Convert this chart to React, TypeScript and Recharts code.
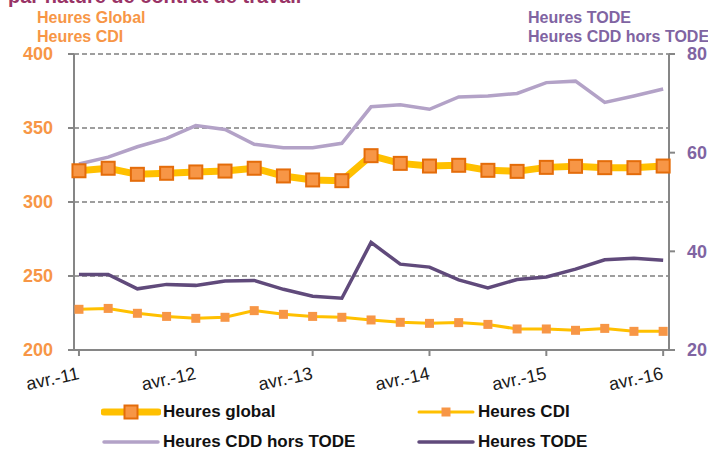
import { LineChart, Line, XAxis, YAxis, CartesianGrid } from "recharts";

// quarterly points, avr.-11 .. avr.-16
const quarters = [
  "avr.-11", "juil.-11", "oct.-11", "janv.-12",
  "avr.-12", "juil.-12", "oct.-12", "janv.-13",
  "avr.-13", "juil.-13", "oct.-13", "janv.-14",
  "avr.-14", "juil.-14", "oct.-14", "janv.-15",
  "avr.-15", "juil.-15", "oct.-15", "janv.-16",
  "avr.-16",
];
const xTicks = [0, 4, 8, 12, 16, 20];

const heuresGlobal = [
  321.1, 322.8, 318.7, 319.4, 320.3, 320.9, 322.8, 317.6, 314.9, 314.4,
  331.3, 326.1, 324.3, 324.8, 321.4, 320.7, 323.4, 324.1, 323.2, 323.2, 324.3,
];
const heuresCDI = [
  227.5, 228.1, 224.8, 222.7, 221.4, 222.1, 226.6, 224.1, 222.7, 222.1,
  220.3, 218.7, 218.0, 218.5, 217.3, 214.2, 214.2, 213.3, 214.6, 212.6, 212.6,
];
const heuresCDDHorsTode = [
  57.7, 59.1, 61.2, 62.9, 65.5, 64.7, 61.7, 61.0, 61.0, 61.9,
  69.3, 69.7, 68.8, 71.3, 71.5, 72.0, 74.2, 74.5, 70.2, 71.5, 72.9,
];
const heuresTode = [
  35.3, 35.3, 32.4, 33.3, 33.1, 34.0, 34.1, 32.3, 30.9, 30.5,
  41.8, 37.4, 36.8, 34.2, 32.6, 34.3, 34.8, 36.4, 38.3, 38.6, 38.2,
];

const leftTicks = [200, 250, 300, 350, 400];
const rightTicks = [20, 40, 60, 80];

const data = quarters.map((q, i) => ({
  i,
  q,
  global: heuresGlobal[i],
  cdi: heuresCDI[i],
  cdd: heuresCDDHorsTode[i],
  tode: heuresTode[i],
}));

const ORANGE = "#F79646";
const DARK_ORANGE = "#E46C0A";
const GOLD = "#FFC000";
const LIGHT_PURPLE = "#B3A2C7";
const DARK_PURPLE = "#604A7B";
const PURPLE_TXT = "#8064A2";
const AXIS = "#868686";
const FONT = "'Liberation Sans', Arial, sans-serif";

function BigSquare(props: any) {
  const { cx, cy } = props;
  if (cx == null || cy == null) return null;
  return (
    <rect x={cx - 6.5} y={cy - 6.5} width={13} height={13} fill={ORANGE} stroke={DARK_ORANGE} strokeWidth={2} />
  );
}

function SmallSquare(props: any) {
  const { cx, cy } = props;
  if (cx == null || cy == null) return null;
  return <rect x={cx - 4.5} y={cy - 4.5} width={9} height={9} fill={ORANGE} />;
}

function XTick(props: any) {
  const { x, y, payload } = props;
  return (
    <g transform={`translate(${x},${y})`}>
      <text
        x={0}
        y={0}
        textAnchor="end"
        transform="translate(1,21) rotate(-12)"
        fontSize={18}
        fontFamily={FONT}
        fill="#1a1a1a"
      >
        {quarters[payload.value]}
      </text>
    </g>
  );
}

function LegendRow({ x, y, label, kind }: { x: number; y: number; label: string; kind: string }) {
  let icon;
  if (kind === "global") {
    icon = (
      <svg width={60} height={16}>
        <line x1={3} y1={8} x2={57} y2={8} stroke={GOLD} strokeWidth={7} strokeLinecap="round" />
        <rect x={23.5} y={1.5} width={13} height={13} fill={ORANGE} stroke={DARK_ORANGE} strokeWidth={2} />
      </svg>
    );
  } else if (kind === "cdi") {
    icon = (
      <svg width={60} height={16}>
        <line x1={3} y1={8} x2={57} y2={8} stroke={GOLD} strokeWidth={3} strokeLinecap="round" />
        <rect x={25.5} y={3.5} width={9} height={9} fill={ORANGE} />
      </svg>
    );
  } else {
    icon = (
      <svg width={60} height={16}>
        <line x1={3} y1={8} x2={57} y2={8} stroke={kind === "cdd" ? LIGHT_PURPLE : DARK_PURPLE} strokeWidth={3.5} strokeLinecap="round" />
      </svg>
    );
  }
  return (
    <div style={{ position: "absolute", left: x, top: y - 8, display: "flex", alignItems: "center", height: 16 }}>
      {icon}
      <span style={{ fontFamily: FONT, fontWeight: "bold", fontSize: 17, color: "#111", marginLeft: 2, whiteSpace: "nowrap" }}>
        {label}
      </span>
    </div>
  );
}

const labelStyle = {
  position: "absolute" as const,
  fontFamily: FONT,
  fontWeight: "bold" as const,
  fontSize: 16,
  lineHeight: "19px",
  whiteSpace: "nowrap" as const,
};

export default function App() {
  return (
    <div style={{ position: "absolute", left: 0, top: 0, width: 708, height: 450, overflow: "hidden", background: "#fff" }}>
      <div style={{ ...labelStyle, left: 8, top: -14, fontSize: 20, lineHeight: "20px", color: "#993366" }}>
        par nature de contrat de travail
      </div>
      <div style={{ ...labelStyle, left: 37, top: 8, color: ORANGE }}>
        Heures Global
        <br />
        Heures CDI
      </div>
      <div style={{ ...labelStyle, left: 528, top: 8, color: PURPLE_TXT }}>
        Heures TODE
        <br />
        Heures CDD hors TODE
      </div>

      <LineChart width={708} height={450} data={data} margin={{ top: 54, right: 0, bottom: 60, left: 14 }}>
        <CartesianGrid
          yAxisId="left"
          vertical={false}
          horizontal
          stroke="#7f7f7f"
          strokeWidth={1.5}
          strokeDasharray="5 3"
          horizontalValues={[250, 300, 350, 400]}
        />
        <XAxis
          dataKey="i"
          type="number"
          domain={[-0.17, 20.2]}
          ticks={xTicks}
          interval={0}
          height={40}
          tick={<XTick />}
          tickSize={6}
          tickMargin={2}
          stroke={AXIS}
          strokeWidth={2}
          tickLine={{ stroke: AXIS, strokeWidth: 2 }}
          axisLine={{ stroke: AXIS, strokeWidth: 2 }}
        />
        <YAxis
          yAxisId="left"
          orientation="left"
          domain={[200, 400]}
          ticks={leftTicks}
          width={60}
          tickSize={6}
          tickMargin={15}
          tick={{ fill: ORANGE, fontSize: 18, fontWeight: "bold", fontFamily: FONT }}
          tickLine={{ stroke: AXIS, strokeWidth: 2 }}
          axisLine={{ stroke: AXIS, strokeWidth: 2 }}
        />
        <YAxis
          yAxisId="right"
          orientation="right"
          domain={[20, 80]}
          ticks={rightTicks}
          width={39}
          tickSize={6}
          tickMargin={12}
          tick={{ fill: PURPLE_TXT, fontSize: 18, fontWeight: "bold", fontFamily: FONT }}
          tickLine={{ stroke: AXIS, strokeWidth: 2 }}
          axisLine={{ stroke: AXIS, strokeWidth: 2 }}
        />
        <Line yAxisId="right" dataKey="cdd" stroke={LIGHT_PURPLE} strokeWidth={3.5} dot={false} isAnimationActive={false} />
        <Line yAxisId="right" dataKey="tode" stroke={DARK_PURPLE} strokeWidth={3.5} dot={false} isAnimationActive={false} />
        <Line yAxisId="left" dataKey="cdi" stroke={GOLD} strokeWidth={3} dot={<SmallSquare />} isAnimationActive={false} />
        <Line yAxisId="left" dataKey="global" stroke={GOLD} strokeWidth={7} dot={<BigSquare />} isAnimationActive={false} />
      </LineChart>

      <LegendRow x={101} y={412} label="Heures global" kind="global" />
      <LegendRow x={416} y={412} label="Heures CDI" kind="cdi" />
      <LegendRow x={101} y={442} label="Heures CDD hors TODE" kind="cdd" />
      <LegendRow x={416} y={442} label="Heures TODE" kind="tode" />
    </div>
  );
}
